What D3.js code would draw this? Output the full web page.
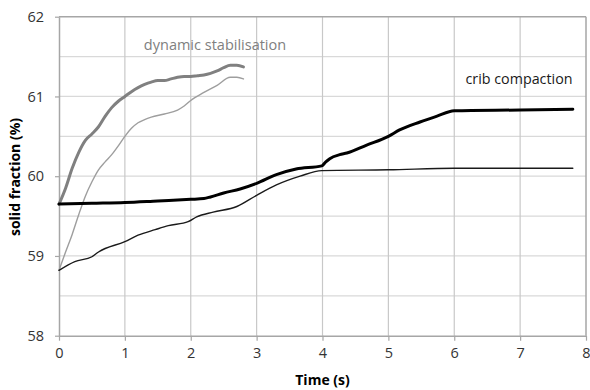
<!DOCTYPE html>
<html><head><meta charset="utf-8">
<script src="https://cdn.jsdelivr.net/npm/d3@7"></script>
<style>body{margin:0;background:#fff;} svg{display:block;}</style>
</head><body>
<svg id="c" width="590" height="390"></svg>
<script>
// Data (time in s, solid fraction in %)
const dynThickT = [0,0.1,0.2,0.3,0.4,0.5,0.6,0.7,0.8,0.9,1.0,1.1,1.2,1.3,1.4,1.5,1.6,1.7,1.8,1.9,2.0,2.1,2.2,2.3,2.4,2.5,2.6,2.7,2.8];
const dynThickV = [59.65,59.85,60.1,60.3,60.45,60.53,60.62,60.75,60.86,60.94,61.0,61.06,61.11,61.15,61.18,61.2,61.2,61.22,61.24,61.25,61.25,61.26,61.27,61.29,61.32,61.36,61.39,61.39,61.37];
const dynThinT = [0,0.1,0.2,0.3,0.4,0.5,0.6,0.7,0.8,0.9,1.0,1.1,1.2,1.3,1.4,1.6,1.8,1.9,2.0,2.2,2.4,2.6,2.7,2.8];
const dynThinV = [58.82,59.05,59.27,59.52,59.75,59.93,60.08,60.18,60.27,60.38,60.5,60.6,60.67,60.71,60.74,60.78,60.83,60.88,60.95,61.05,61.14,61.24,61.24,61.22];
const cribThickT = [0,0.5,1.0,1.5,2.0,2.2,2.3,2.5,2.75,3.0,3.3,3.6,3.99,4.05,4.11,4.26,4.37,4.67,5.0,5.17,5.48,5.73,6.0,7.0,7.8];
const cribThickV = [59.65,59.66,59.67,59.69,59.71,59.72,59.74,59.79,59.84,59.91,60.02,60.09,60.13,60.18,60.22,60.27,60.29,60.39,60.5,60.58,60.68,60.75,60.82,60.83,60.84];
const cribThinT = [0,0.24,0.5,0.6,1.0,1.2,1.46,1.66,1.96,2.09,2.34,2.7,3.0,3.3,3.66,3.99,5.0,6.0,7.0,7.8];
const cribThinV = [58.82,58.93,58.99,59.05,59.18,59.26,59.33,59.38,59.43,59.49,59.55,59.62,59.76,59.89,60.0,60.07,60.08,60.1,60.1,60.1];
const xTicks = [0,1,2,3,4,5,6,7,8];
const yTicks = [58,59,60,61,62];
const yMinor = [58.5,59.5,60.5,61.5];
const labels = ["dynamic stabilisation","crib compaction"];

const svg = d3.select("#c");
const font = "'Open Sans', 'Liberation Sans', sans-serif";
const x = d3.scaleLinear().domain([0,8]).range([59,586]);
const y = d3.scaleLinear().domain([58,62]).range([335.7,16.7]);

// gridlines
svg.append("g").selectAll("line.ym").data(yMinor.concat(yTicks.slice(1,4))).enter().append("line")
  .attr("x1",x(0)).attr("x2",x(8)).attr("y1",d=>y(d)).attr("y2",d=>y(d))
  .attr("stroke","#d9d9d9").attr("stroke-width",1.2);
svg.append("g").selectAll("line.xg").data(xTicks.slice(1,8)).enter().append("line")
  .attr("x1",d=>x(d)).attr("x2",d=>x(d)).attr("y1",y(58)).attr("y2",y(62))
  .attr("stroke","#c8c8c8").attr("stroke-width",1.2);
// frame top/right
svg.append("line").attr("x1",x(0)).attr("x2",x(8)).attr("y1",y(62)).attr("y2",y(62)).attr("stroke","#a6a6a6").attr("stroke-width",1.5);
svg.append("line").attr("x1",x(8)).attr("x2",x(8)).attr("y1",y(62)).attr("y2",y(58)).attr("stroke","#a6a6a6").attr("stroke-width",1.5);

// axes
const xAxis = svg.append("g").attr("transform",`translate(0,${y(58)})`)
  .call(d3.axisBottom(x).tickValues(xTicks).tickFormat(d3.format("d")).tickSizeOuter(0).tickSizeInner(5).tickPadding(7));
const yAxis = svg.append("g").attr("transform",`translate(${x(0)},0)`)
  .call(d3.axisLeft(y).tickValues(yTicks).tickFormat(d3.format("d")).tickSizeOuter(0).tickSizeInner(4).tickPadding(11));
[xAxis,yAxis].forEach(a=>{
  a.select(".domain").attr("stroke","#a6a6a6").attr("stroke-width",1.5);
  a.selectAll(".tick line").attr("stroke","#a6a6a6").attr("stroke-width",1.2);
  a.selectAll(".tick text").attr("fill","#333").style("font-family",font).style("font-size","14.5px");
});

// lines
const line = d3.line().x(d=>x(d[0])).y(d=>y(d[1])).curve(d3.curveMonotoneX);
function draw(T,V,color,w){
  svg.append("path").datum(d3.zip(T,V)).attr("d",line)
    .attr("fill","none").attr("stroke",color).attr("stroke-width",w)
    .attr("stroke-linejoin","round").attr("stroke-linecap","round");
}
draw(dynThinT,dynThinV,"#9e9e9e",1.4);
draw(cribThinT,cribThinV,"#1a1a1a",1.4);
draw(dynThickT,dynThickV,"#808080",3);
draw(cribThickT,cribThickV,"#000",3);

// annotations
svg.append("text").attr("x",215).attr("y",50).attr("text-anchor","middle")
  .attr("fill","#808080").style("font-family",font).style("font-size","14.5px").text(labels[0]);
svg.append("text").attr("x",519).attr("y",84).attr("text-anchor","middle")
  .attr("fill","#1a1a1a").style("font-family",font).style("font-size","14.3px").text(labels[1]);

// axis titles
svg.append("text").attr("x",322.5).attr("y",385).attr("text-anchor","middle")
  .attr("fill","#000").style("font-family",font).style("font-size","14px").style("font-weight","bold").text("Time (s)");
svg.append("text").attr("transform","translate(20,177) rotate(-90)").attr("text-anchor","middle")
  .attr("fill","#000").style("font-family",font).style("font-size","14px").style("font-weight","bold").text("solid fraction (%)");
</script>
</body></html>
